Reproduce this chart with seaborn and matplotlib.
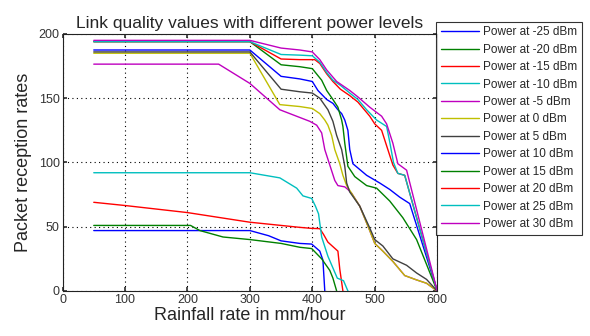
import numpy as np
import pandas as pd
import matplotlib
matplotlib.use("Agg")
import matplotlib.pyplot as plt
import seaborn as sns

# ---- data ----
labels = ["Power at -25 dBm", "Power at -20 dBm", "Power at -15 dBm", "Power at -10 dBm",
          "Power at -5 dBm", "Power at 0 dBm", "Power at 5 dBm", "Power at 10 dBm",
          "Power at 15 dBm", "Power at 20 dBm", "Power at 25 dBm", "Power at 30 dBm"]

x_m25 = [50, 300, 330, 350, 380, 399, 412, 417, 420]
y_m25 = [47, 47, 43, 39, 37, 36.5, 31, 24, 0]

x_m20 = [50, 205, 220, 257, 300, 350, 380, 399, 415, 428, 433, 439]
y_m20 = [51, 51, 47, 42, 40, 37, 34, 33, 25, 16, 10, 0]

x_m15 = [50, 100, 200, 300, 380, 399, 412, 418, 425, 441, 444, 449]
y_m15 = [69, 66.5, 61, 53.5, 49.5, 48.7, 48.5, 44, 38, 31, 17, 0]

x_m10 = [50, 300, 348, 375, 385, 399, 405, 410, 415, 425, 440, 450, 457]
y_m10 = [92, 92, 88, 80, 74, 72, 66, 60, 42, 27, 10, 8, 0]

x_m5 = [50, 250, 300, 348, 380, 396, 407, 415, 420, 428, 436, 441, 452, 457, 463,
        476, 492, 500, 513, 529, 548, 567, 583, 600]
y_m5 = [176.5, 176.5, 161.5, 141, 135, 132, 129, 123, 110, 98, 86, 82, 81, 79, 76,
        66, 47, 37, 31, 23, 12, 8.6, 6, 0]

x_p0 = [50, 300, 348, 380, 400, 412, 420, 425, 431, 436, 444, 449, 455, 463,
        476, 492, 500, 513, 529, 548, 567, 583, 600]
y_p0 = [185, 185, 145, 143.5, 142, 138, 133, 129, 121, 110, 99, 90, 82, 76,
        66, 47, 37, 31, 23, 12, 8.6, 6, 0]

x_p5 = [50, 300, 350, 380, 400, 412, 425, 433, 439, 447, 452, 455, 460, 476, 492,
        500, 513, 529, 551, 567, 583, 600]
y_p5 = [186, 186, 157, 155, 154, 150, 141, 132, 121, 110, 97, 84, 77, 66, 49,
        40, 35, 25, 20, 14, 9, 0]

x_p10 = [50, 300, 350, 380, 400, 409, 423, 433, 441, 447, 452, 457, 460, 465, 487,
         508, 524, 540, 556, 600]
y_p10 = [187.5, 187.5, 167, 165, 163, 156, 149, 146, 141, 138, 133, 125, 110, 99, 90,
         84, 79, 73, 68, 0]

x_p15 = [50, 300, 350, 380, 400, 415, 423, 433, 441, 447, 449, 452, 457, 468, 487,
         503, 524, 545, 567, 600]
y_p15 = [194, 194, 176, 174.5, 173, 164, 156, 149, 143, 133, 128, 115, 97, 89, 82,
         80, 70, 57, 40, 0]

x_p20 = [50, 300, 350, 380, 404, 412, 423, 433, 445, 460, 473, 492, 500, 511, 521,
         529, 537, 548, 600]
y_p20 = [194, 194, 180.5, 180, 180, 177, 169, 163, 157, 152, 147, 136, 130, 125, 110,
         98, 91.5, 90, 0]

x_p25 = [50, 300, 350, 380, 400, 412, 423, 433, 445, 460, 473, 487, 503, 519, 524,
         530, 537, 548, 600]
y_p25 = [194, 194, 184, 183.5, 183, 178, 170, 164, 160, 154, 149, 141, 133, 128, 116,
         100, 91.5, 90, 0]

x_p30 = [50, 300, 350, 380, 400, 412, 423, 439, 460, 473, 492, 511, 519, 529, 537,
         551, 600]
y_p30 = [195, 195, 189, 187.5, 186, 180, 172, 163, 156, 151, 143, 136, 130, 115, 99,
         94, 0]

xs = [x_m25, x_m20, x_m15, x_m10, x_m5, x_p0, x_p5, x_p10, x_p15, x_p20, x_p25, x_p30]
ys = [y_m25, y_m20, y_m15, y_m10, y_m5, y_p0, y_p5, y_p10, y_p15, y_p20, y_p25, y_p30]

colors = ["#0000ff", "#008000", "#ff0000", "#00bfbf", "#bf00bf", "#bfbf00",
          "#404040", "#0000ff", "#008000", "#ff0000", "#00bfbf", "#bf00bf"]

frames = []
for lab, xv, yv in zip(labels, xs, ys):
    frames.append(pd.DataFrame({"x": xv, "y": yv, "series": lab}))
df = pd.concat(frames, ignore_index=True)

# ---- plotting ----
sns.set_theme(style="white")
plt.rcParams["font.family"] = ["Liberation Sans", "DejaVu Sans"]

fig = plt.figure(figsize=(5.9, 3.36), dpi=100)
ax = fig.add_axes([0.106, 0.134, 0.635, 0.765])

sns.lineplot(data=df, x="x", y="y", hue="series", hue_order=labels,
             palette=colors, sort=False, estimator=None, units="series",
             linewidth=1.0, ax=ax, legend=False)

ax.set_xlim(0, 600)
ax.set_ylim(0, 200)
ax.set_xticks(range(0, 601, 100))
ax.set_yticks(range(0, 201, 50))
ax.grid(True, linestyle=(0, (1, 3)), color="black", linewidth=0.8)
ax.tick_params(direction="in", length=3, labelsize=9, colors="#333333",
               top=True, right=True, bottom=True, left=True, pad=2)
for sp in ax.spines.values():
    sp.set_color("#222222")
    sp.set_linewidth(0.8)

ax.set_title("Link quality values with different power levels", fontsize=12.5, pad=4)
ax.set_xlabel("Rainfall rate in mm/hour", fontsize=13, labelpad=1)
ax.set_ylabel("Packet reception rates", fontsize=13, labelpad=5)

handles = [plt.Line2D([], [], color=c, linewidth=1.0) for c in colors]
leg = fig.legend(handles, labels, loc="upper left", bbox_to_anchor=(0.739, 0.936),
                 fontsize=8.5, frameon=True, fancybox=False, edgecolor="black",
                 handlelength=3.2, handletextpad=0.4, labelspacing=0.46,
                 borderpad=0.4, borderaxespad=0)
leg.get_frame().set_linewidth(0.8)

fig.savefig("out.png", dpi=100, facecolor="white")
